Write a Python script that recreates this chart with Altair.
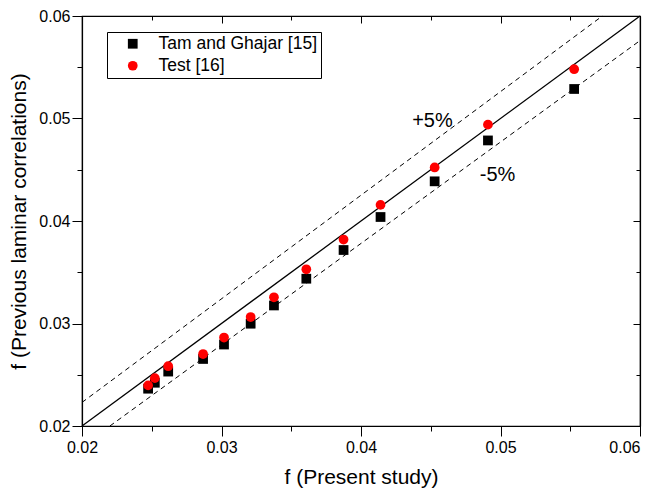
import altair as alt
import pandas as pd

# ---- data ----
x_present = [0.02474, 0.02522, 0.02618, 0.02868, 0.03018, 0.03209, 0.03376,
             0.03608, 0.03875, 0.04140, 0.04528, 0.04910, 0.05528]
y_tam = [0.02364, 0.02422, 0.02531, 0.02654, 0.02795, 0.02998, 0.03176,
         0.03437, 0.03717, 0.04039, 0.04387, 0.04786, 0.05288]
y_test = [0.02396, 0.02467, 0.02583, 0.02702, 0.02863, 0.03063, 0.03256,
          0.03529, 0.03819, 0.04157, 0.04522, 0.04940, 0.05481]
series_names = ["Tam and Ghajar [15]", "Test [16]"]
series_colors = ["#000000", "#ff0000"]
series_shapes = ["square", "circle"]

diag_x = [0.02, 0.06]
diag_y = [0.02, 0.06]
upper_x = [0.02, 0.0573]
upper_y = [0.0223, 0.06]
lower_x = [0.022, 0.06]
lower_y = [0.02, 0.0576]

note_text = ["+5%", "-5%"]
note_x = [0.04512, 0.04979]
note_y = [0.04915, 0.04386]

tick_values = [0.02, 0.025, 0.03, 0.035, 0.04, 0.045, 0.05, 0.055, 0.06]
x_title = "f (Present study)"
y_title = "f (Previous laminar correlations)"

FONT = "Liberation Sans"
W, H = 558, 410

pts = pd.DataFrame({
    "x": x_present + x_present,
    "y": y_tam + y_test,
    "series": [series_names[0]] * len(x_present) + [series_names[1]] * len(x_present),
})
diag = pd.DataFrame({"x": diag_x, "y": diag_y})
upper = pd.DataFrame({"x": upper_x, "y": upper_y})
lower = pd.DataFrame({"x": lower_x, "y": lower_y})
notes = pd.DataFrame({"x": note_x, "y": note_y, "t": note_text})

sx = alt.Scale(domain=[0.02, 0.06], nice=False, zero=False)
sy = alt.Scale(domain=[0.02, 0.06], nice=False, zero=False)

major_test = "round(datum.value*1000) % 10 == 0"
label_expr = f"{major_test} ? format(datum.value, '.2f') : ''"

common_axis = dict(
    values=tick_values, grid=False, domainColor="black", domainWidth=1.2,
    tickColor="black", tickWidth=1, labelOverlap=False, labelFlush=False,
    labelFont=FONT, labelFontSize=16, labelColor="black",
    titleFont=FONT, titleFontSize=21, titleFontWeight="normal", titleColor="black",
)

x_axis = alt.Axis(
    orient="bottom", labelExpr=label_expr, labelPadding=3,
    labelAlign={"condition": {"test": "datum.value > 0.0595", "value": "right"}, "value": "center"},
    tickSize={"condition": {"test": major_test, "value": 10}, "value": 5},
    title=x_title, titleY=57, titleBaseline="alphabetic", **common_axis,
)
y_axis = alt.Axis(
    orient="left", labelExpr=label_expr, labelPadding=2,
    tickSize={"condition": {"test": major_test, "value": 10}, "value": 5},
    title=y_title, titleX=-57, titleY=H / 2, titleAngle=270,
    titleBaseline="alphabetic", titleAlign="center", **common_axis,
)
x_axis_top = alt.Axis(
    orient="bottom", offset=-H, labels=False, title=None,
    tickSize={"condition": {"test": major_test, "value": 7}, "value": 4},
    **common_axis,
)
y_axis_right = alt.Axis(
    orient="left", offset=-W, labels=False, title=None,
    tickSize={"condition": {"test": major_test, "value": 7}, "value": 4},
    **common_axis,
)

diag_layer = alt.Chart(diag).mark_line(color="black", strokeWidth=1.3).encode(
    x=alt.X("x:Q", scale=sx, axis=x_axis_top),
    y=alt.Y("y:Q", scale=sy, axis=y_axis_right),
)
upper_layer = alt.Chart(upper).mark_line(color="black", strokeWidth=1, strokeDash=[5, 4]).encode(
    x=alt.X("x:Q", scale=sx, axis=None),
    y=alt.Y("y:Q", scale=sy, axis=None),
)
lower_layer = alt.Chart(lower).mark_line(color="black", strokeWidth=1, strokeDash=[5, 4]).encode(
    x=alt.X("x:Q", scale=sx, axis=None),
    y=alt.Y("y:Q", scale=sy, axis=None),
)
points_layer = alt.Chart(pts).mark_point(filled=True, opacity=1, size=95, strokeWidth=0).encode(
    x=alt.X("x:Q", scale=sx, axis=x_axis),
    y=alt.Y("y:Q", scale=sy, axis=y_axis),
    color=alt.Color("series:N", scale=alt.Scale(domain=series_names, range=series_colors),
                    legend=alt.Legend(
                        title=None, orient="none", legendX=25, legendY=16,
                        strokeColor="black", fillColor="white",
                        padding=3, symbolOffset=14, labelOffset=17, rowPadding=3,
                        labelFont=FONT, labelFontSize=17.5, labelColor="black",
                        symbolSize=95, symbolStrokeWidth=0, symbolOpacity=1,
                    )),
    shape=alt.Shape("series:N", scale=alt.Scale(domain=series_names, range=series_shapes)),
    order=alt.Order("series:N"),
)
notes_layer = alt.Chart(notes).mark_text(
    font=FONT, fontSize=20, color="black", align="center", baseline="alphabetic"
).encode(
    x=alt.X("x:Q", scale=sx, axis=None),
    y=alt.Y("y:Q", scale=sy, axis=None),
    text="t:N",
)

chart = alt.layer(
    diag_layer, upper_layer, lower_layer, points_layer, notes_layer
).resolve_axis(x="independent", y="independent").properties(
    width=W, height=H,
    autosize=alt.AutoSizeParams(type="none"),
    padding={"left": 74, "top": 8, "right": 6, "bottom": 63},
    background="white",
).configure_view(stroke="black", strokeWidth=1.2)

chart.save("out.html", embed_options={"renderer": "svg", "actions": False})
